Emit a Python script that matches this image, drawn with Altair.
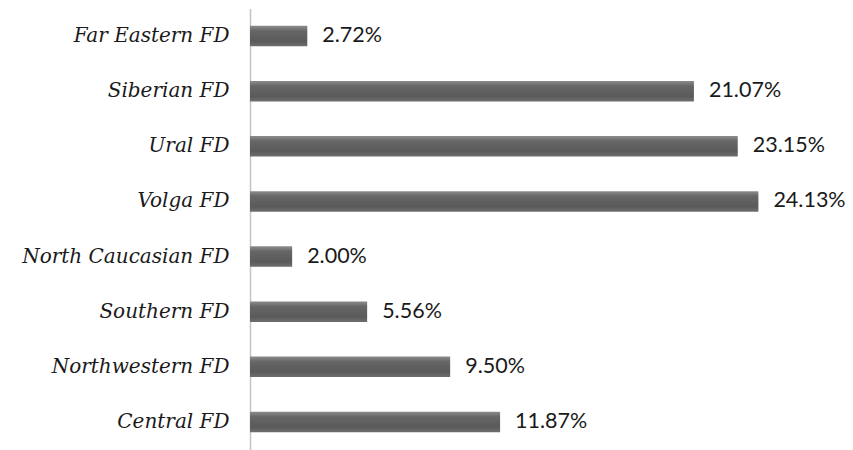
import altair as alt
import pandas as pd

regions = ["Far Eastern FD", "Siberian FD", "Ural FD", "Volga FD",
           "North Caucasian FD", "Southern FD", "Northwestern FD", "Central FD"]
shares = [2.72, 21.07, 23.15, 24.13, 2.00, 5.56, 9.50, 11.87]

df = pd.DataFrame({"region": regions, "share": shares})
df["label"] = [f"{v:.2f}%" for v in shares]

y = alt.Y("region:N", sort=regions, title=None,
          scale=alt.Scale(paddingInner=0.63, paddingOuter=0.315),
          axis=alt.Axis(domain=True, domainColor="#c4c4c4", domainWidth=1.5,
                        ticks=False, labelPadding=21,
                        labelFont="DejaVu Serif", labelFontStyle="italic",
                        labelFontSize=20, labelColor="#1a1a1a", labelLimit=300))
x = alt.X("share:Q", title=None, axis=None,
          scale=alt.Scale(domain=[0, 28.62], nice=False))

grad = alt.Gradient(
    gradient="linear", x1=0, x2=0, y1=0, y2=1,
    stops=[alt.GradientStop(color="#8c8c8c", offset=0),
           alt.GradientStop(color="#666666", offset=0.25),
           alt.GradientStop(color="#5a5a5a", offset=0.75),
           alt.GradientStop(color="#6e6e6e", offset=1)])

bars = alt.Chart(df).mark_bar(color=grad).encode(x=x, y=y)
labels = alt.Chart(df).mark_text(align="left", baseline="middle", dx=15,
                                 font="Lato", fontSize=21.5, color="#1a1a1a").encode(
    x=x, y=y, text="label:N")

chart = (bars + labels).properties(
    width=603, height=441,
    autosize=alt.AutoSizeParams(type="none"),
    padding={"left": 250, "top": 8.5, "right": 0, "bottom": 0},
    background="white",
).configure_view(stroke=None)

chart.save("out.html", embed_options={"renderer": "svg", "actions": False})
